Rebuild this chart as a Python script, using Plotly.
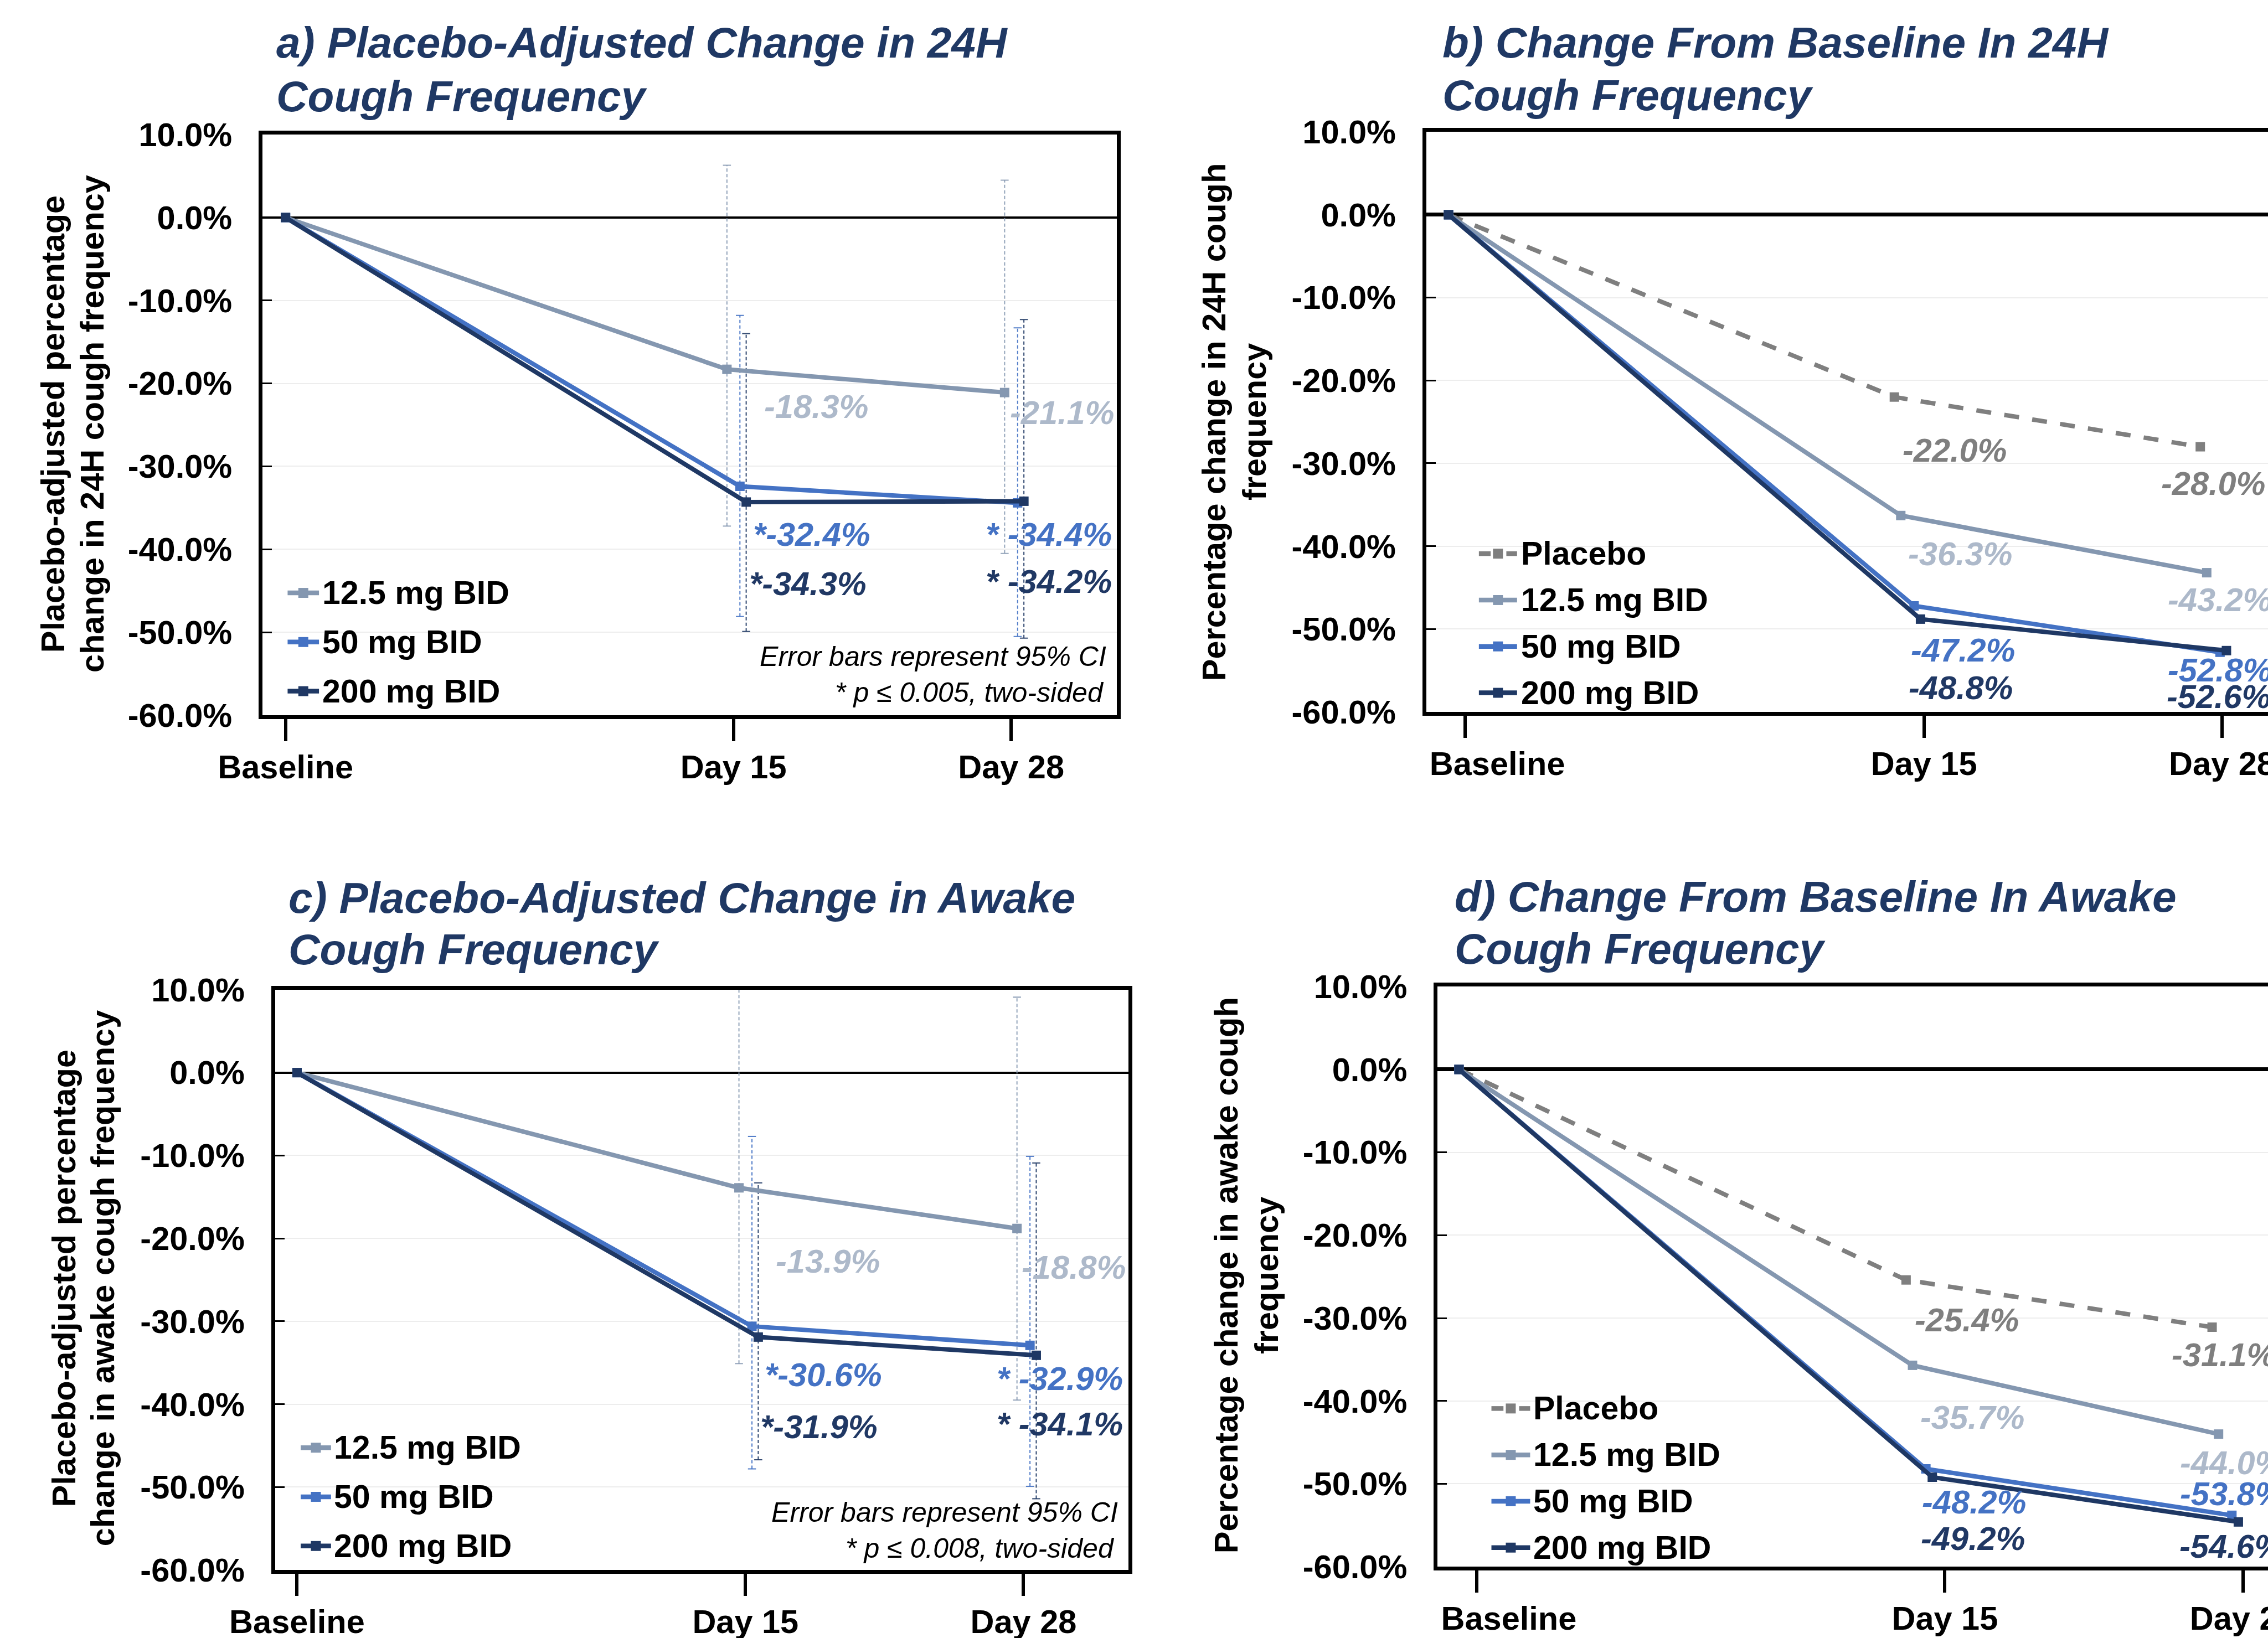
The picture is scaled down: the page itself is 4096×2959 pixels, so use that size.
import plotly.graph_objects as go

# ---------------- data ----------------
VISITS = ["Baseline", "Day 15", "Day 28"]
SERIES = ["Placebo", "12.5 mg BID", "50 mg BID", "200 mg BID"]

# a) placebo-adjusted change, 24H cough frequency (%)
ADJ24_125 = [0.0, -18.3, -21.1]
ADJ24_50 = [0.0, -32.4, -34.4]
ADJ24_200 = [0.0, -34.3, -34.2]
ADJ24_125_LO = [None, -37.2, -40.5]
ADJ24_125_HI = [None, 6.3, 4.5]
ADJ24_50_LO = [None, -48.1, -50.5]
ADJ24_50_HI = [None, -11.8, -13.3]
ADJ24_200_LO = [None, -49.9, -50.7]
ADJ24_200_HI = [None, -14.0, -12.3]

# b) change from baseline, 24H cough frequency (%)
CFB24_PBO = [0.0, -22.0, -28.0]
CFB24_125 = [0.0, -36.3, -43.2]
CFB24_50 = [0.0, -47.2, -52.8]
CFB24_200 = [0.0, -48.8, -52.6]

# c) placebo-adjusted change, awake cough frequency (%)
ADJAW_125 = [0.0, -13.9, -18.8]
ADJAW_50 = [0.0, -30.6, -32.9]
ADJAW_200 = [0.0, -31.9, -34.1]
ADJAW_125_LO = [None, -35.1, -39.5]
ADJAW_125_HI = [None, 14.2, 9.1]
ADJAW_50_LO = [None, -47.8, -49.9]
ADJAW_50_HI = [None, -7.7, -10.1]
ADJAW_200_LO = [None, -46.7, -51.4]
ADJAW_200_HI = [None, -13.3, -10.9]

# d) change from baseline, awake cough frequency (%)
CFBAW_PBO = [0.0, -25.4, -31.1]
CFBAW_125 = [0.0, -35.7, -44.0]
CFBAW_50 = [0.0, -48.2, -53.8]
CFBAW_200 = [0.0, -49.2, -54.6]

Y_TICKS = [10, 0, -10, -20, -30, -40, -50, -60]

# ---------------- geometry helpers ----------------
W_REF, H_REF = 4337, 3133
W, H = 4096, 2959
S = W / W_REF


def px(xr):
    return xr / W_REF


def py(yr):
    return 1 - yr / H_REF


def fs(ref):
    return ref * S


FONT = "Liberation Sans, Arial, Helvetica, sans-serif"
NAVY_TITLE = "#1F3864"

LINE_COLOR = {"Placebo": "#7F7F7F", "12.5 mg BID": "#8497B0",
              "50 mg BID": "#4472C4", "200 mg BID": "#1F3864"}
LABEL_COLOR = {"Placebo": "#7F7F7F", "12.5 mg BID": "#ADB9CA",
               "50 mg BID": "#4472C4", "200 mg BID": "#203864"}
CI_COLOR = {"12.5 mg BID": "rgba(132,151,176,0.85)",
            "50 mg BID": "rgba(68,114,196,0.9)",
            "200 mg BID": "rgba(31,56,100,0.9)"}
SERIES_DX = {"Placebo": -0.0285, "12.5 mg BID": -0.0145,
             "50 mg BID": 0.0145, "200 mg BID": 0.0285}

PANELS = [
    dict(n=1, title1="a) Placebo-Adjusted Change in 24H", title_pos=(526, 82, 184),
         ytitle=["Placebo-adjusted percentage", "change in 24H cough frequency"],
         ytitle_pos=[(102, 811), (177, 811)],
         box_x=(502, 2136), box_y=(257.4, 1368), origin=546, unit=856.5,
         visit_pos=[0.0, 1.0, 1.62], tickvals=[0.0, 1.0, 1.62], base_pad=0,
         right_line=True, zero_w=3.8,
         series={"12.5 mg BID": ADJ24_125, "50 mg BID": ADJ24_50, "200 mg BID": ADJ24_200},
         ci={"12.5 mg BID": (ADJ24_125_LO, ADJ24_125_HI), "50 mg BID": (ADJ24_50_LO, ADJ24_50_HI),
             "200 mg BID": (ADJ24_200_LO, ADJ24_200_HI)},
         star={"50 mg BID", "200 mg BID"},
         labels={"12.5 mg BID": [(1459, 778), (1929, 789)],
                 "50 mg BID": [(1438, 1022), (1883, 1022)],
                 "200 mg BID": [(1431, 1116), (1883, 1112)]},
         note=["Error bars represent 95% CI", "* p \u2264 0.005, two-sided"],
         note_pos=[(2118, 1256), (2113, 1325)],
         legend=dict(key_x=(550, 610), text_x=614, row1=1134, spacing=94)),
    dict(n=2, title1="b) Change From Baseline In 24H", title_pos=(2756, 81, 182),
         ytitle=["Percentage change in 24H cough", "frequency"],
         ytitle_pos=[(2321, 807), (2398, 807)],
         box_x=(2727.5, 4337), box_y=(252.2, 1361.7), origin=2770, unit=877.5,
         visit_pos=[0.0, 1.0, 1.6667], tickvals=[0.0365, 1.036, 1.6855], base_pad=7,
         right_line=False, zero_w=7,
         series={"Placebo": CFB24_PBO, "12.5 mg BID": CFB24_125, "50 mg BID": CFB24_50,
                 "200 mg BID": CFB24_200},
         ci={}, star=set(),
         labels={"Placebo": [(3636, 861), (4130, 925)],
                 "12.5 mg BID": [(3647, 1059), (4143, 1147)],
                 "50 mg BID": [(3652, 1244), (4143, 1282)],
                 "200 mg BID": [(3648, 1316), (4141, 1332)]},
         note=[], note_pos=[],
         legend=dict(key_x=(2828, 2901), text_x=2906, row1=1059, spacing=88.7)),
    dict(n=3, title1="c) Placebo-Adjusted Change in Awake", title_pos=(550, 1717, 1816),
         ytitle=["Placebo-adjusted percentage", "change in awake cough frequency"],
         ytitle_pos=[(122, 2445), (196, 2445)],
         box_x=(526, 2158), box_y=(1893, 3003), origin=568, unit=857.5,
         visit_pos=[0.0, 1.0, 1.62], tickvals=[0.0, 1.0, 1.62], base_pad=0,
         right_line=True, zero_w=3.8,
         series={"12.5 mg BID": ADJAW_125, "50 mg BID": ADJAW_50, "200 mg BID": ADJAW_200},
         ci={"12.5 mg BID": (ADJAW_125_LO, ADJAW_125_HI), "50 mg BID": (ADJAW_50_LO, ADJAW_50_HI),
             "200 mg BID": (ADJAW_200_LO, ADJAW_200_HI)},
         star={"50 mg BID", "200 mg BID"},
         labels={"12.5 mg BID": [(1481, 2413), (1951, 2424)],
                 "50 mg BID": [(1460, 2630), (1904, 2637)],
                 "200 mg BID": [(1452, 2729), (1904, 2724)]},
         note=["Error bars represent 95% CI", "* p \u2264 0.008, two-sided"],
         note_pos=[(2140, 2893), (2134, 2961)],
         legend=dict(key_x=(575, 633), text_x=636, row1=2769, spacing=94)),
    dict(n=4, title1="d) Change From Baseline In Awake", title_pos=(2779, 1715, 1815),
         ytitle=["Percentage change in awake cough", "frequency"],
         ytitle_pos=[(2345, 2439), (2422, 2439)],
         box_x=(2749, 4337), box_y=(1887, 2996.6), origin=2790, unit=880,
         visit_pos=[0.0, 1.0, 1.665], tickvals=[0.0386, 1.0557, 1.7034], base_pad=7,
         right_line=False, zero_w=7,
         series={"Placebo": CFBAW_PBO, "12.5 mg BID": CFBAW_125, "50 mg BID": CFBAW_50,
                 "200 mg BID": CFBAW_200},
         ci={}, star=set(),
         labels={"Placebo": [(3659, 2525), (4151, 2591)],
                 "12.5 mg BID": [(3670, 2711), (4167, 2798)],
                 "50 mg BID": [(3673, 2873), (4167, 2857)],
                 "200 mg BID": [(3671, 2943), (4165, 2958)]},
         note=[], note_pos=[],
         legend=dict(key_x=(2852, 2926), text_x=2930, row1=2694, spacing=88.7)),
]

TICK_FS = fs(63)
LEG_FS = fs(62.5)
VAL_FS = fs(63)
TITLE_FS = fs(83)
YTITLE_FS = fs(63)
NOTE_FS = fs(53)
LINE_W = fs(8.5)
MARK = fs(18)

fig = go.Figure()
annotations = []
shapes = []
layout = dict(width=W, height=H,
              margin=dict(l=0, r=0, t=0, b=0, pad=0, autoexpand=False),
              paper_bgcolor="white", plot_bgcolor="white", showlegend=False,
              font=dict(family=FONT, color="black"))

for p in PANELS:
    n = p["n"]
    sfx = "" if n == 1 else str(n)
    xref, yref = "x" + sfx, "y" + sfx

    # CI (error bar) traces first, so lines sit on top
    for name, (lo, hi) in p["ci"].items():
        xs, ys = [], []
        for i in range(1, len(VISITS)):
            xv = p["visit_pos"][i] + SERIES_DX[name]
            xs += [xv, xv, None]
            ys += [lo[i], hi[i], None]
        fig.add_trace(go.Scatter(
            x=xs, y=ys, mode="lines+markers", xaxis=xref, yaxis=yref,
            line=dict(color=CI_COLOR[name], width=fs(2.2), dash="6px,4px"),
            marker=dict(symbol="line-ew", size=fs(11),
                        line=dict(color=CI_COLOR[name], width=fs(2.2))),
            showlegend=False, hoverinfo="skip"))

    lg = p["legend"]
    for row, (name, vals) in enumerate(p["series"].items()):
        xs = [p["visit_pos"][i] + (SERIES_DX[name] if i > 0 else 0.0)
              for i in range(len(VISITS))]
        dash = "27px,24px" if name == "Placebo" else "solid"
        fig.add_trace(go.Scatter(
            x=xs, y=vals, mode="lines+markers", name=name, xaxis=xref, yaxis=yref,
            line=dict(color=LINE_COLOR[name], width=LINE_W, dash=dash),
            marker=dict(symbol="square", size=MARK, color=LINE_COLOR[name]),
            cliponaxis=False, showlegend=False))
        # value labels
        for k, i in enumerate([1, 2]):
            v = vals[i]
            txt = f"{v:.1f}%"
            if name in p["star"]:
                txt = ("*" if i == 1 else "* ") + txt
            lx, ly = p["labels"][name][k]
            annotations.append(dict(
                x=px(lx), y=py(ly), xref="paper", yref="paper", text=txt,
                showarrow=False, xanchor="left", yanchor="middle",
                font=dict(family=FONT, size=VAL_FS, color=LABEL_COLOR[name],
                          weight="bold", style="italic")))

        # legend key (drawn like the reference: line sample with square marker)
        ky = lg["row1"] + row * lg["spacing"]
        kx0, kx1 = lg["key_x"]
        kxm = (kx0 + kx1) / 2
        if name == "Placebo":
            segs = [(kx0, kxm - 14), (kxm + 16, kx1)]
        else:
            segs = [(kx0, kx1)]
        for a0, a1 in segs:
            shapes.append(dict(type="line", xref="paper", yref="paper",
                               x0=px(a0), x1=px(a1), y0=py(ky), y1=py(ky),
                               line=dict(color=LINE_COLOR[name], width=fs(9))))
        hs = 9.5
        shapes.append(dict(type="rect", xref="paper", yref="paper",
                           x0=px(kxm - hs), x1=px(kxm + hs), y0=py(ky + hs), y1=py(ky - hs),
                           fillcolor=LINE_COLOR[name], line=dict(width=0)))
        annotations.append(dict(
            x=px(lg["text_x"]), y=py(ky), xref="paper", yref="paper", text=name,
            showarrow=False, xanchor="left", yanchor="middle",
            font=dict(family=FONT, size=LEG_FS, color="black", weight="bold")))

    # axes
    x0, x1 = p["box_x"]
    y_top, y_bot = p["box_y"]
    xr = [(x0 - p["origin"]) / p["unit"], (x1 - p["origin"]) / p["unit"]]
    pad = "\u00a0" * p["base_pad"]
    layout["xaxis" + sfx] = dict(
        domain=[px(x0), min(1.0, px(x1))], range=xr, anchor=yref, automargin=False,
        tickmode="array", tickvals=p["tickvals"],
        ticktext=[pad + VISITS[0], VISITS[1], VISITS[2]],
        ticks="outside", ticklen=fs(42), tickwidth=fs(6.5), tickcolor="black",
        showline=True, linewidth=fs(7.5), linecolor="black", mirror=True,
        showgrid=False, zeroline=False, ticklabelstandoff=-4,
        ticklabeloverflow="allow",
        tickfont=dict(family=FONT, size=TICK_FS, color="black", weight="bold"),
        fixedrange=True)
    layout["yaxis" + sfx] = dict(
        domain=[py(y_bot), py(y_top)], range=[-60, 10], anchor=xref, automargin=False,
        tickmode="array", tickvals=Y_TICKS, ticktext=[f"{v:.1f}%" for v in Y_TICKS],
        ticks="inside", ticklen=fs(18), tickwidth=fs(3), tickcolor="black",
        showline=True, linewidth=fs(7.5), linecolor="black",
        mirror=p["right_line"], showgrid=True, gridcolor="#EDEDED", gridwidth=fs(2.5),
        zeroline=True, zerolinecolor="black", zerolinewidth=fs(p["zero_w"]),
        ticklabelstandoff=36, ticklabeloverflow="allow",
        tickfont=dict(family=FONT, size=TICK_FS, color="black", weight="bold"),
        fixedrange=True)

    # titles
    tx, ty1, ty2 = p["title_pos"]
    for t, ty in [(p["title1"], ty1), ("Cough Frequency", ty2)]:
        annotations.append(dict(
            x=px(tx), y=py(ty), xref="paper", yref="paper", text=t, showarrow=False,
            xanchor="left", yanchor="middle",
            font=dict(family=FONT, size=TITLE_FS, color=NAVY_TITLE,
                      weight="bold", style="italic")))
    # rotated y titles
    for t, (cx, cy) in zip(p["ytitle"], p["ytitle_pos"]):
        annotations.append(dict(
            x=px(cx), y=py(cy), xref="paper", yref="paper", text=t, showarrow=False,
            textangle=-90, xanchor="center", yanchor="middle",
            font=dict(family=FONT, size=YTITLE_FS, color="black", weight="bold")))
    # footnotes
    for t, (rx, ry) in zip(p["note"], p["note_pos"]):
        annotations.append(dict(
            x=px(rx), y=py(ry), xref="paper", yref="paper", text=t, showarrow=False,
            xanchor="right", yanchor="middle",
            font=dict(family=FONT, size=NOTE_FS, color="black", style="italic")))

layout["annotations"] = annotations
layout["shapes"] = shapes
fig.update_layout(**layout)

fig.write_html("out.html", include_plotlyjs=True,
               config={"displayModeBar": False},
               post_script="document.body.style.margin='0px';document.body.style.overflow='hidden';")
